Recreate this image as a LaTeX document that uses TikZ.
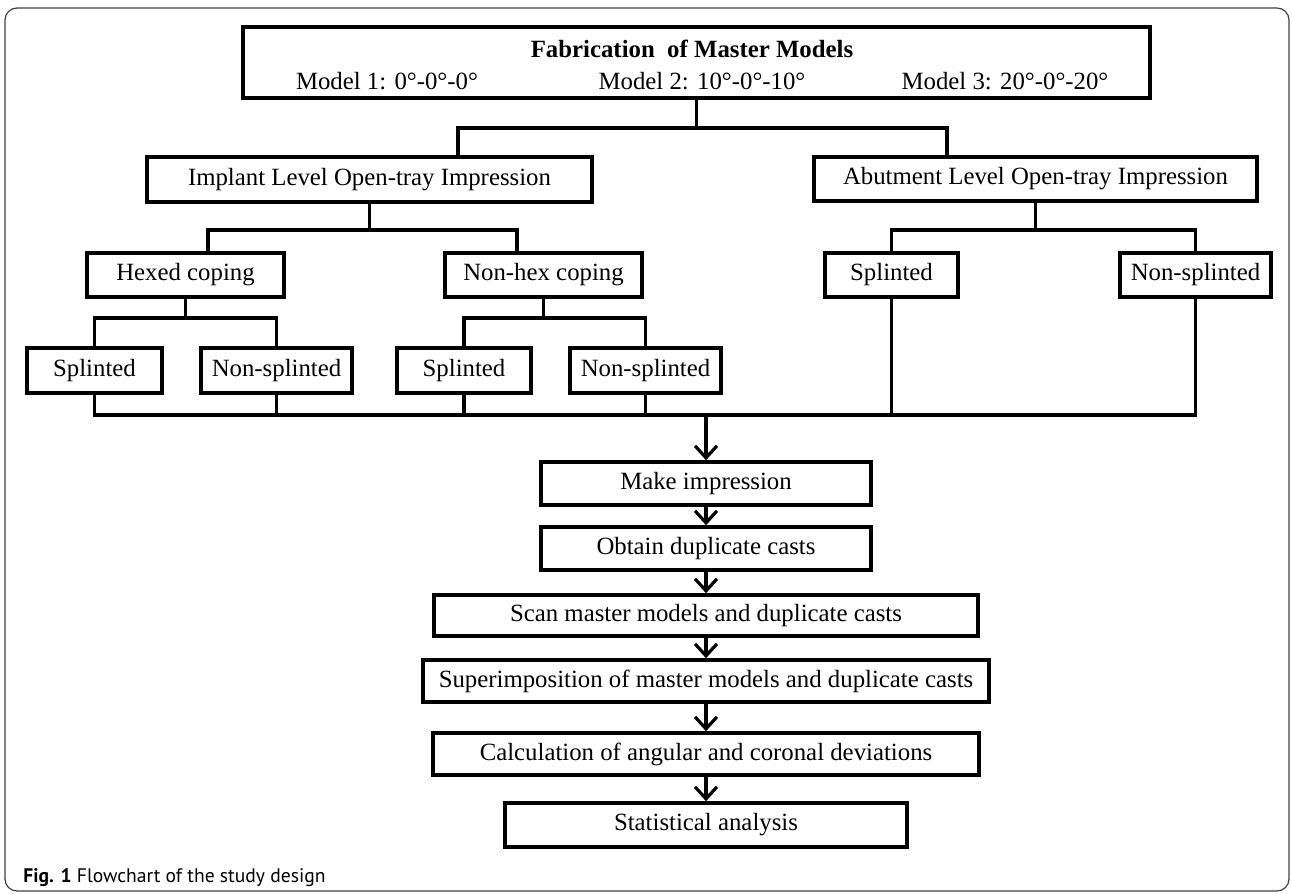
\documentclass[tikz,border=0pt]{standalone}
\usepackage{fontspec}
\setmainfont{Liberation Serif}
\newfontfamily\capfont{PT Sans}
\usetikzlibrary{arrows.meta}

\tikzset{
    blk/.style={draw, line width=1.8pt, inner sep=0pt, align=center,
        font=\fontsize{12.4}{14}\selectfont},
    txt/.style={inner sep=0pt, anchor=base, font=\fontsize{12.4}{14}\selectfont},
    link/.style={line width=1.6pt},
    flow/.style={link, -{Straight Barb[length=6pt, width=11pt]}}
}

\begin{document}
\begin{tikzpicture}[x=0.5pt, y=-0.5pt]
    \useasboundingbox (0,0) rectangle (1292,894);
    \draw[black!75, line width=0.6pt, rounded corners=6pt] (5,8) rectangle (1289,891);

    % master models
    \node[blk, minimum width=453.5pt, minimum height=35.5pt] (master) at (696.5,62.5) {};
    \node[txt, font=\fontsize{12.4}{14}\selectfont\bfseries] (title) at (692,57) {Fabrication\ \ of Master Models};
    \node[txt] (mod1) at (387,89) {Model 1: 0°-0°-0°};
    \node[txt] (mod2) at (702,89) {Model 2: 10°-0°-10°};
    \node[txt] (mod3) at (1005,89) {Model 3: 20°-0°-20°};

    % impression levels
    \node[blk, minimum width=222.5pt, minimum height=22.5pt] (implant) at (369.5,179.5) {Implant Level Open-tray Impression};
    \node[blk, minimum width=221.5pt, minimum height=22pt] (abutment) at (1035.5,179) {Abutment Level Open-tray Impression};

    % copings
    \node[blk, minimum width=98.5pt, minimum height=22pt] (hexed) at (185.5,275) {Hexed coping};
    \node[blk, minimum width=98.5pt, minimum height=22pt] (nonhex) at (543.5,275) {Non-hex coping};
    \node[blk, minimum width=66.5pt, minimum height=22pt] (absplint) at (891.5,275) {Splinted};
    \node[blk, minimum width=75.5pt, minimum height=22pt] (abnonsplint) at (1195.5,275) {Non-splinted};

    \node[blk, minimum width=67.5pt, minimum height=22.5pt] (hsplint) at (94.5,370.5) {Splinted};
    \node[blk, minimum width=75.5pt, minimum height=22.5pt] (hnonsplint) at (276.5,370.5) {Non-splinted};
    \node[blk, minimum width=67pt, minimum height=22.5pt] (nsplint) at (464,370.5) {Splinted};
    \node[blk, minimum width=75.5pt, minimum height=22.5pt] (nnonsplint) at (645.5,370.5) {Non-splinted};

    % procedure
    \node[blk, minimum width=165pt, minimum height=21.5pt] (make) at (706,483.5) {Make impression};
    \node[blk, minimum width=165pt, minimum height=21.5pt] (obtain) at (706,548.5) {Obtain duplicate casts};
    \node[blk, minimum width=272pt, minimum height=20.5pt] (scan) at (706,615.5) {Scan master models and duplicate casts};
    \node[blk, minimum width=283pt, minimum height=21pt] (superimp) at (706,681) {Superimposition of master models and duplicate casts};
    \node[blk, minimum width=273pt, minimum height=21pt] (calc) at (706,754) {Calculation of angular and coronal deviations};
    \node[blk, minimum width=201pt, minimum height=22pt] (stat) at (706,825) {Statistical analysis};

    % branch points
    \coordinate (t1) at (458,128);
    \coordinate (t2) at (947,128);
    \coordinate (h1) at (208,230);
    \coordinate (h2) at (517,230);
    \coordinate (k1) at (0,318);
    \coordinate (bus) at (0,415);

    \draw[link] (master.south) -- (master.south |- t1);
    \draw[link] (implant.north -| t1) -- (t1) -- (t2) -- (abutment.north -| t2);

    \draw[link] (implant.south) -- (implant.south |- h1);
    \draw[link] (hexed.north -| h1) -- (h1) -- (h2) -- (nonhex.north -| h2);
    \draw[link] (abutment.south) -- (abutment.south |- h1);
    \draw[link] (absplint.north) |- (abnonsplint.north |- h1) -- (abnonsplint.north);

    \draw[link] (hexed.south) -- (hexed.south |- k1);
    \draw[link] (hsplint.north) |- (hnonsplint.north |- k1) -- (hnonsplint.north);
    \draw[link] (nonhex.south) -- (nonhex.south |- k1);
    \draw[link] (nsplint.north) |- (nnonsplint.north |- k1) -- (nnonsplint.north);

    % collecting line
    \draw[link] (hsplint.south) |- (abnonsplint.south |- bus) -- (abnonsplint.south);
    \foreach \n in {hnonsplint, nsplint, nnonsplint, absplint}
        \draw[link] (\n.south) -- (\n.south |- bus);

    \draw[flow] (make.north |- bus) -- (make.north);
    \foreach \a/\b in {make/obtain, obtain/scan, scan/superimp, superimp/calc, calc/stat}
        \draw[flow] (\a.south) -- (\b.north);

    \node[anchor=base west, inner sep=0pt, font=\capfont\fontsize{9.8}{12}\selectfont] (caption) at (23,882)
        {\textbf{Fig. 1} Flowchart of the study design};
\end{tikzpicture}
\end{document}
